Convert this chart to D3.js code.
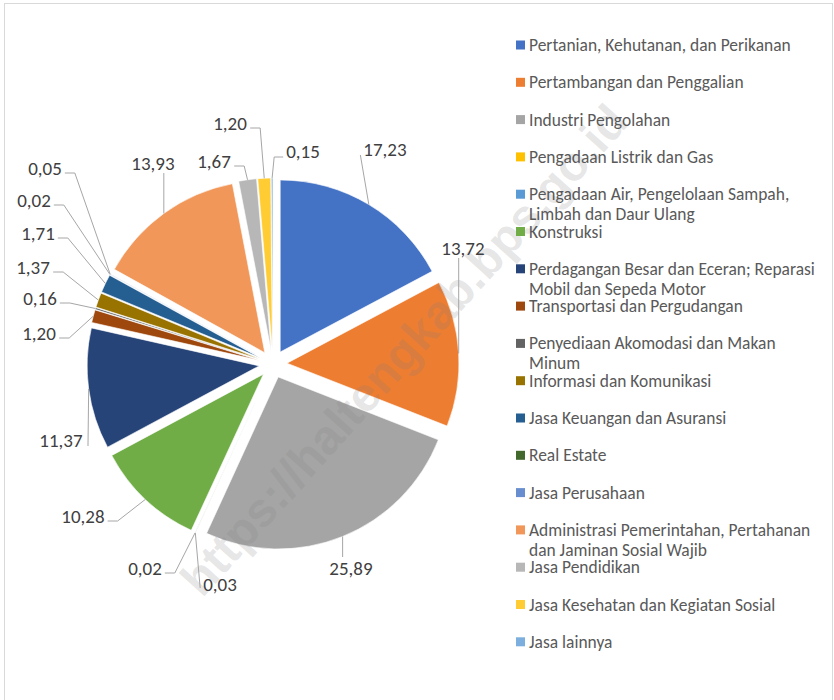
<!DOCTYPE html>
<html>
<head>
<meta charset="utf-8">
<script src="https://cdn.jsdelivr.net/npm/d3@7"></script>
<style>
  html, body { margin: 0; padding: 0; background: #ffffff; }
  svg { display: block; }
</style>
</head>
<body>
<svg id="chart" width="834" height="700"></svg>
<script>
// ---------- data ----------
const categories = [
  "Pertanian, Kehutanan, dan Perikanan",
  "Pertambangan dan Penggalian",
  "Industri Pengolahan",
  "Pengadaan Listrik dan Gas",
  "Pengadaan Air, Pengelolaan Sampah, Limbah dan Daur Ulang",
  "Konstruksi",
  "Perdagangan Besar dan Eceran; Reparasi Mobil dan Sepeda Motor",
  "Transportasi dan Pergudangan",
  "Penyediaan Akomodasi dan Makan Minum",
  "Informasi dan Komunikasi",
  "Jasa Keuangan dan Asuransi",
  "Real Estate",
  "Jasa Perusahaan",
  "Administrasi Pemerintahan, Pertahanan dan Jaminan Sosial Wajib",
  "Jasa Pendidikan",
  "Jasa Kesehatan dan Kegiatan Sosial",
  "Jasa lainnya"
];
const values = [17.23, 13.72, 25.89, 0.03, 0.02, 10.28, 11.37, 1.20, 0.16, 1.37, 1.71, 0.02, 0.05, 13.93, 1.67, 1.20, 0.15];
const colors = ["#4472C4", "#ED7D31", "#A5A5A5", "#FFC000", "#5B9BD5", "#70AD47", "#264478", "#9E480E",
                "#636363", "#997300", "#255E91", "#43682B", "#698ED0", "#F1975A", "#B7B7B7", "#FFCD33", "#7CAFDD"];
const watermarkText = "https://haltengkab.bps.go.id";

// ---------- layout (label placement, not data) ----------
// text centre [x, y] and leader style for each data label
const labelLayout = [
  [385, 149, "leftDown"],
  [463, 248, "below"],
  [351, 568, "above"],
  [220, 584, "leftUp"],
  [145, 568, "right"],
  [83, 516, "right"],
  [61, 440, "rightUp"],
  [39, 333, "right"],
  [40, 298, "right"],
  [33, 267, "right"],
  [38, 233, "right"],
  [34, 200, "right"],
  [45, 168, "right"],
  [153, 163, "below"],
  [214, 161, "right"],
  [230, 123, "right"],
  [303, 151, "left"]
];

const svg = d3.select("#chart");
const FONT = "Carlito, Calibri, Lato, 'Open Sans', sans-serif";

// chart area border
svg.append("rect")
  .attr("x", 4.5).attr("y", 3.5)
  .attr("width", 828).attr("height", 700)
  .attr("fill", "none").attr("stroke", "#d9d9d9").attr("stroke-width", 1);

// ---------- pie ----------
const cx = 273, cy = 364, radius = 172, explode = 14;
const pie = d3.pie().sort(null).value(d => d).startAngle(0).endAngle(2 * Math.PI);
const arcs = pie(values);
const arcGen = d3.arc().innerRadius(0).outerRadius(radius);

const pieG = svg.append("g").attr("transform", `translate(${cx},${cy})`);
function offsetOf(a) {
  const m = (a.startAngle + a.endAngle) / 2;
  return [Math.sin(m) * explode, -Math.cos(m) * explode];
}
pieG.selectAll("path.slice")
  .data(arcs)
  .join("path")
  .attr("class", "slice")
  .attr("d", arcGen)
  .attr("transform", d => { const o = offsetOf(d); return `translate(${o[0]},${o[1]})`; })
  .attr("fill", (d, i) => colors[i])
  .attr("stroke", "#ffffff")
  .attr("stroke-width", 0.6);

// ---------- watermark ----------
svg.append("text")
  .attr("x", 0).attr("y", 0)
  .attr("transform", "translate(404,350) rotate(-48)")
  .attr("text-anchor", "middle")
  .attr("dominant-baseline", "central")
  .attr("font-family", "'Liberation Sans', Arial, sans-serif")
  .attr("font-weight", "bold")
  .attr("font-size", 48)
  .attr("fill", "#808080")
  .attr("fill-opacity", 0.2)
  .text(watermarkText);

// ---------- data labels with leader lines ----------
const fmt = v => v.toFixed(2).replace(".", ",");
const lineG = svg.append("g");
const labelG = svg.append("g");

arcs.forEach((a, i) => {
  const [tx, ty, style] = labelLayout[i];
  const t = labelG.append("text")
    .attr("x", tx).attr("y", ty)
    .attr("text-anchor", "middle")
    .attr("dominant-baseline", "central")
    .attr("font-family", FONT)
    .attr("font-size", 19)
    .attr("fill", "#404040")
    .text(fmt(values[i]));
  const bb = t.node().getBBox();
  const m = (a.startAngle + a.endAngle) / 2;
  const o = offsetOf(a);
  const ex = cx + o[0] + Math.sin(m) * radius;
  const ey = cy + o[1] - Math.cos(m) * radius;
  let pts;
  const left = bb.x, right = bb.x + bb.width;
  if (style === "right") {
    pts = [[right + 3, ty + 5], [right + 13, ty + 5], [ex, ey]];
  } else if (style === "left") {
    pts = [[left - 3, ty + 6], [left - 12, ty + 6], [ex, ey]];
  } else if (style === "leftDown") {
    pts = [[left - 3, ty + 6], [ex, ey]];
  } else if (style === "leftUp") {
    pts = [[left - 3, ty + 4], [ex, ey]];
  } else if (style === "rightUp") {
    pts = [[right + 5, ty + 6], [ex, ey]];
  } else if (style === "below") {
    pts = [[ex, ty + 10], [ex, ey]];
  } else {
    pts = [[ex, ty - 11], [ex, ey]];
  }
  lineG.append("path")
    .attr("d", d3.line()(pts))
    .attr("fill", "none")
    .attr("stroke", "#a6a6a6")
    .attr("stroke-width", 1);
});

// ---------- legend ----------
const legendX = 516, legendTop = 45, legendStep = 37.3, wrapWidth = 295, lineGap = 20;
const legendG = svg.append("g");

// scale legend font so the first entry spans the same width as in the original
const probe = legendG.append("text").attr("font-family", FONT).attr("font-size", 15).text(categories[0]);
const probeW = probe.node().getComputedTextLength();
probe.remove();
const legendFont = 15 * 262 / probeW;

categories.forEach((name, i) => {
  const y = legendTop + i * legendStep;
  legendG.append("rect")
    .attr("x", legendX).attr("y", y - 4.5)
    .attr("width", 9).attr("height", 9)
    .attr("fill", colors[i]);
  // word wrap
  const words = name.split(" ");
  let lines = [], cur = "";
  const meas = legendG.append("text").attr("font-family", FONT).attr("font-size", legendFont);
  words.forEach(w => {
    const test = cur ? cur + " " + w : w;
    meas.text(test);
    if (meas.node().getComputedTextLength() > wrapWidth && cur) {
      lines.push(cur); cur = w;
    } else cur = test;
  });
  lines.push(cur);
  meas.remove();
  lines.forEach((ln, k) => {
    legendG.append("text")
      .attr("x", legendX + 13).attr("y", y + k * lineGap)
      .attr("dominant-baseline", "central")
      .attr("font-family", FONT)
      .attr("font-size", legendFont)
      .attr("fill", "#595959")
      .text(ln);
  });
});
</script>
</body>
</html>
